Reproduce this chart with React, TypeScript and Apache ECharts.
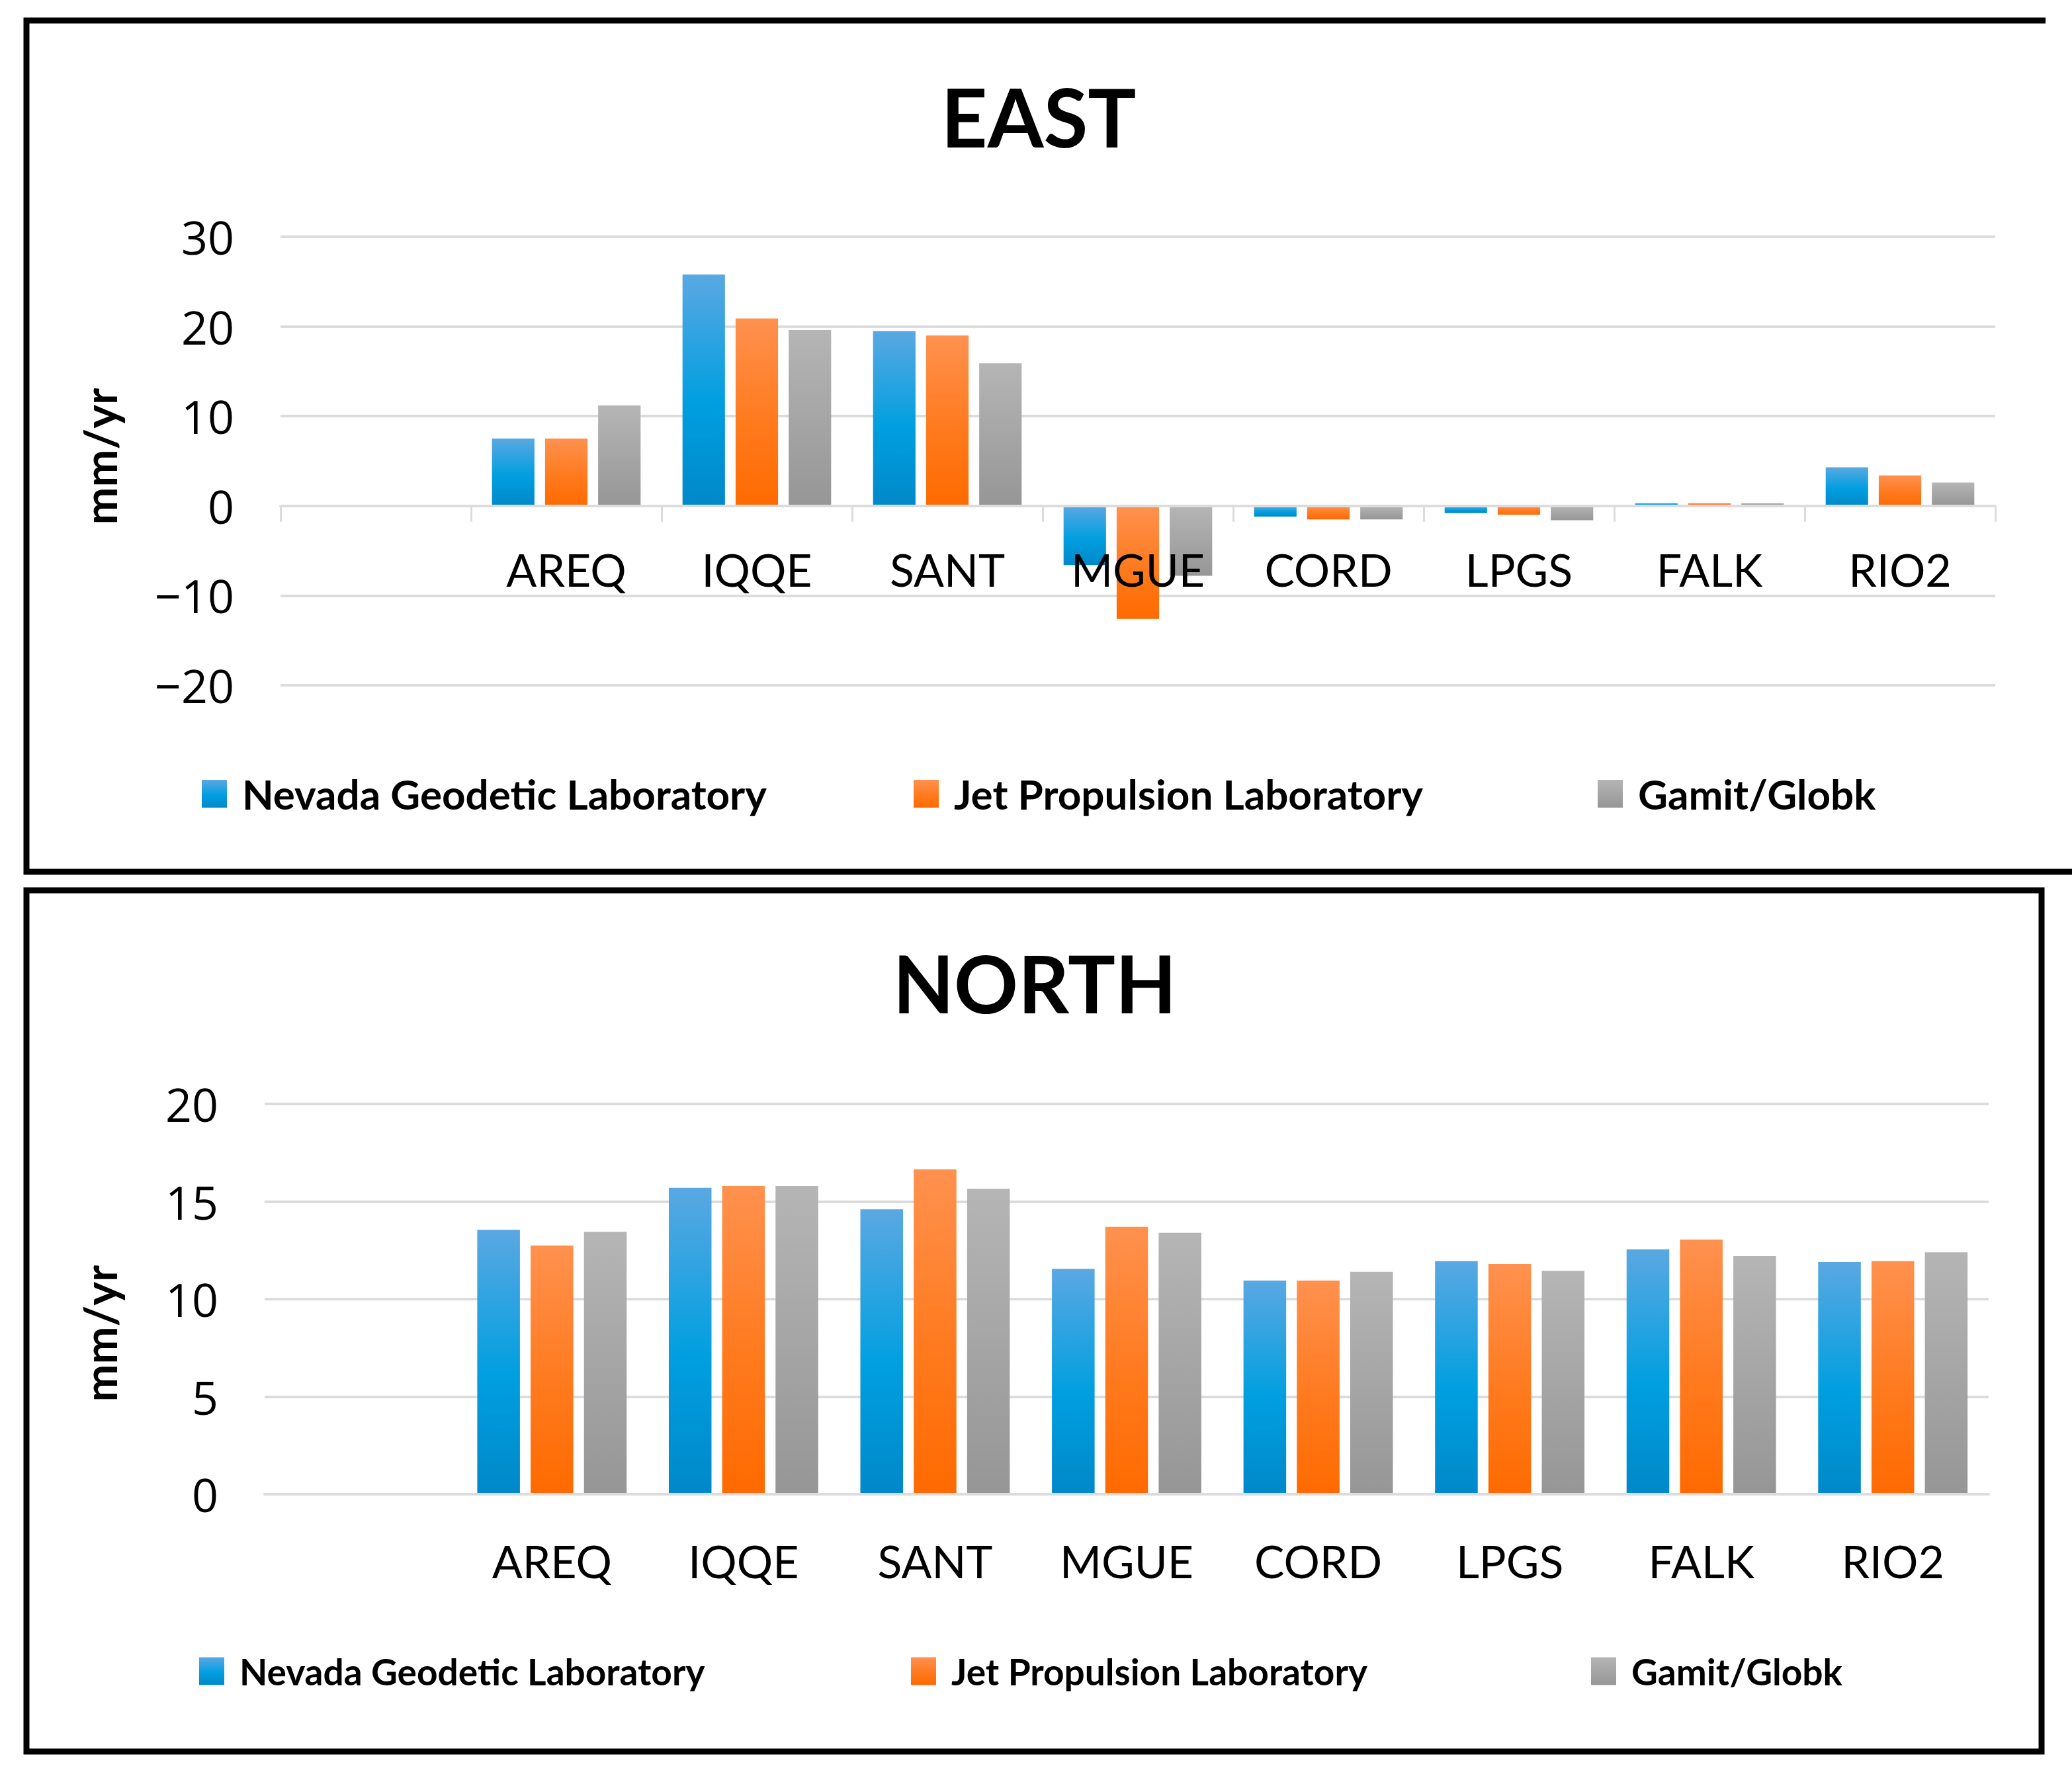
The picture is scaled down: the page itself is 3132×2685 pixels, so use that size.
import React, { useEffect, useRef } from "react";
import * as echarts from "echarts";

const stations = ["", "AREQ", "IQQE", "SANT", "MGUE", "CORD", "LPGS", "FALK", "RIO2"];
const seriesNames = ["Nevada Geodetic Laboratory", "Jet Propulsion Laboratory", "Gamit/Globk"];

// EAST component, mm/yr (first slot is empty in the original)
const eastNevada = [null, 7.5, 25.8, 19.5, -6.6, -1.2, -0.8, 0.3, 4.3];
const eastJpl = [null, 7.5, 20.9, 19.0, -12.6, -1.5, -1.0, 0.3, 3.4];
const eastGamit = [null, 11.2, 19.6, 15.9, -7.8, -1.5, -1.6, 0.3, 2.6];

// NORTH component, mm/yr
const northNevada = [null, 13.55, 15.7, 14.6, 11.55, 10.95, 11.95, 12.55, 11.9];
const northJpl = [null, 12.75, 15.8, 16.65, 13.7, 10.95, 11.8, 13.05, 11.95];
const northGamit = [null, 13.45, 15.8, 15.65, 13.4, 11.4, 11.45, 12.2, 12.4];

const eastTicks = { min: -20, max: 30, interval: 10 };
const northTicks = { min: 0, max: 20, interval: 5 };

const grad = (stops: [number, string][]) =>
  new echarts.graphic.LinearGradient(
    0, 0, 0, 1,
    stops.map(([offset, color]) => ({ offset, color }))
  );

const blue = () => grad([[0, "#5aa8e2"], [0.55, "#009fe0"], [1, "#0088c9"]]);
const orange = () => grad([[0, "#ff914f"], [0.55, "#ff7a1e"], [1, "#ff6a00"]]);
const gray = () => grad([[0, "#b5b5b5"], [1, "#969696"]]);

const LABEL_FONT = "Lato, 'Open Sans', sans-serif";
const TICK_FONT = "'Open Sans', 'DejaVu Sans', sans-serif";
const GRID_COLOR = "#dcdcdc";

const App: React.FC = () => {
  const chartRef = useRef<HTMLDivElement>(null);

  useEffect(() => {
    if (!chartRef.current) return;
    const chart = echarts.init(chartRef.current, null, { renderer: "svg" });

    const colors = [blue, orange, gray];
    const eastData = [eastNevada, eastJpl, eastGamit];
    const northData = [northNevada, northJpl, northGamit];

    const xAxisBase = (margin: number, ticks: boolean) => ({
      type: "category",
      data: stations,
      boundaryGap: true,
      z: 5,
      axisLine: { show: true, onZero: true, lineStyle: { color: GRID_COLOR, width: 4 } },
      axisTick: { show: ticks, length: 24, lineStyle: { color: GRID_COLOR, width: 3 } },
      axisLabel: { color: "#000", fontSize: 68, fontFamily: LABEL_FONT, margin, interval: 0 },
      splitLine: { show: false },
    });

    const yAxisBase = (t: { min: number; max: number; interval: number }) => ({
      type: "value",
      min: t.min,
      max: t.max,
      interval: t.interval,
      axisLine: { show: false },
      axisTick: { show: false },
      splitLine: { lineStyle: { color: GRID_COLOR, width: 4 } },
      axisLabel: {
        color: "#000",
        fontSize: 70,
        fontFamily: TICK_FONT,
        margin: 70,
        formatter: (v: number) => (v < 0 ? "\u2212" + Math.abs(v) : String(v)),
      },
    });

    const makeSeries = (data: (number | null)[][], idx: number) =>
      data.map((d, i) => ({
        name: seriesNames[i],
        type: "bar",
        xAxisIndex: idx,
        yAxisIndex: idx,
        data: d,
        barGap: "25%",
        barCategoryGap: "22%",
        itemStyle: { color: colors[i]() },
      }));

    const legendLefts = [
      [300, 1376, 2410],
      [296, 1372, 2400],
    ];
    const legendTops = [1164, 2494];
    const legendSizes = [62, 55];

    const legends: any[] = [];
    legendLefts.forEach((row, p) =>
      row.forEach((left, i) =>
        legends.push({
          left,
          top: legendTops[p],
          data: [seriesNames[i]],
          icon: "rect",
          itemWidth: 38,
          itemHeight: 42,
          selectedMode: false,
          textStyle: {
            fontSize: legendSizes[p],
            fontWeight: "bold",
            fontFamily: LABEL_FONT,
            color: "#000",
            padding: [0, 0, 0, 18],
          },
        })
      )
    );

    const text = (t: string, x: number, y: number, size: number, rotation = 0) => ({
      type: "text",
      x,
      y,
      rotation,
      style: {
        text: t,
        fontSize: size,
        fontWeight: "bold",
        fontFamily: LABEL_FONT,
        fill: "#000",
        align: "center",
        verticalAlign: "middle",
      },
    });

    chart.setOption({
      animation: false,
      backgroundColor: "#fff",
      grid: [
        { left: 424, width: 2592, top: 358, height: 678 },
        { left: 400, width: 2606, top: 1669, height: 590 },
      ],
      xAxis: [
        // labels sit just under the zero line, i.e. above the grid's bottom edge
        { ...xAxisBase(-210, true), gridIndex: 0 },
        { ...xAxisBase(66, false), gridIndex: 1 },
      ],
      yAxis: [
        { ...yAxisBase(eastTicks), gridIndex: 0 },
        { ...yAxisBase(northTicks), gridIndex: 1 },
      ],
      legend: legends,
      series: [...makeSeries(eastData, 0), ...makeSeries(northData, 1)],
      graphic: [
        {
          type: "polyline",
          shape: { points: [[3092, 31], [40, 31], [40, 1318], [3140, 1318]] },
          style: { stroke: "#000", lineWidth: 9, fill: "none" },
        },
        {
          type: "rect",
          shape: { x: 40, y: 1346, width: 3046, height: 1302 },
          style: { stroke: "#000", lineWidth: 9, fill: "none" },
        },
        text("EAST", 1570, 176, 122),
        text("NORTH", 1564, 1486, 120),
        text("mm/yr", 150, 690, 68, Math.PI / 2),
        text("mm/yr", 150, 2016, 68, Math.PI / 2),
      ],
    });

    return () => chart.dispose();
  }, []);

  return (
    <div
      ref={chartRef}
      style={{ position: "fixed", left: 0, top: 0, width: 3132, height: 2685 }}
    />
  );
};

export default App;
